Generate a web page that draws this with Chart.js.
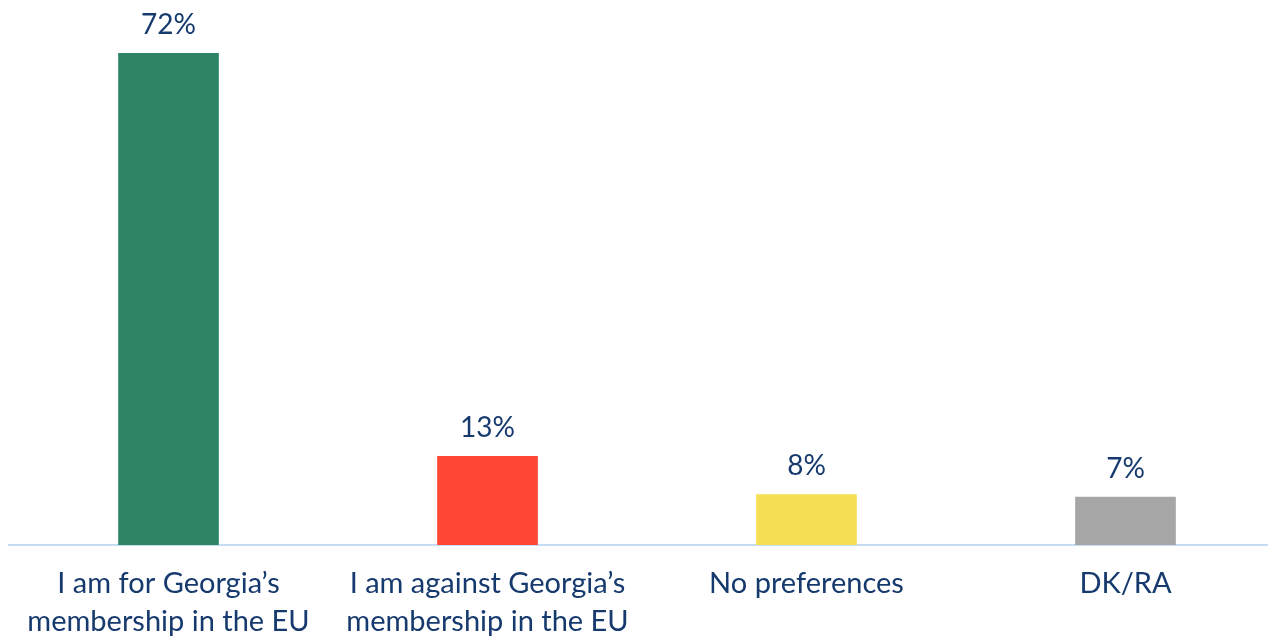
<!DOCTYPE html>
<html>
<head>
<meta charset="utf-8">
<script src="https://cdn.jsdelivr.net/npm/chart.js@4/dist/chart.umd.min.js"></script>
<style>
html,body{margin:0;padding:0;background:#fff;overflow:hidden;width:1268px;height:641px;}
#wrap{position:relative;width:1285px;height:641px;}
</style>
</head>
<body>
<div id="wrap"><canvas id="c" width="1285" height="641"></canvas></div>
<script>
const categories = [
  ["I am for Georgia\u2019s", "membership in the EU"],
  ["I am against Georgia\u2019s", "membership in the EU"],
  "No preferences",
  "DK/RA"
];
const values = [72, 13, 7.4, 7];
const valueLabels = ["72%", "13%", "8%", "7%"];
const barColors = ["#2E8565", "#FF4733", "#F7DF55", "#A6A6A6"];

const textColor = "#163A6E";
const fontFamily = "Lato, 'Open Sans', sans-serif";

const valueLabelPlugin = {
  id: "valueLabels",
  afterDatasetsDraw(chart) {
    const ctx = chart.ctx;
    const meta = chart.getDatasetMeta(0);
    ctx.save();
    ctx.fillStyle = textColor;
    ctx.font = "28px " + fontFamily;
    ctx.textAlign = "center";
    ctx.textBaseline = "alphabetic";
    meta.data.forEach((bar, i) => {
      ctx.fillText(valueLabels[i], bar.x, bar.y - 19);
    });
    ctx.restore();
  }
};

new Chart(document.getElementById("c"), {
  type: "bar",
  data: {
    labels: categories,
    datasets: [{
      data: values,
      backgroundColor: barColors,
      barThickness: 100
    }]
  },
  options: {
    responsive: false,
    animation: false,
    layout: { padding: { left: 9, right: 0, top: 0, bottom: 0 } },
    plugins: { legend: { display: false }, tooltip: { enabled: false } },
    scales: {
      y: {
        display: false,
        min: 0,
        max: 79.8
      },
      x: {
        grid: { display: false },
        border: { display: true, color: "#C6DCF5", width: 2 },
        ticks: {
          color: textColor,
          font: { family: fontFamily, size: 29, lineHeight: 1.3 },
          padding: 12,
          maxRotation: 0,
          autoSkip: false
        },
        afterFit(axis) { axis.height = 96; }
      }
    }
  },
  plugins: [valueLabelPlugin]
});
</script>
</body>
</html>
